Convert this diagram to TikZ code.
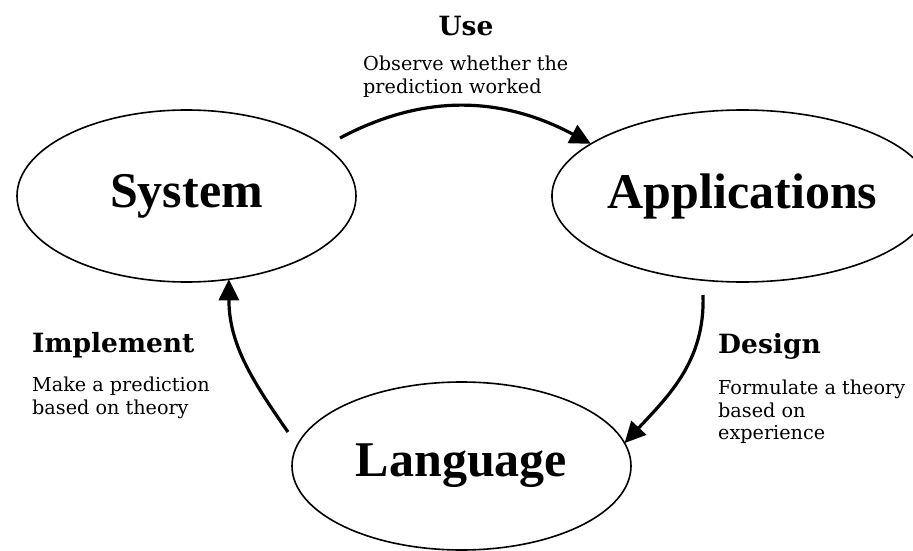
\documentclass[tikz,border=0pt]{standalone}
\usepackage{fontspec}
\setmainfont{DejaVu Serif}
\newfontfamily\boxfont{Liberation Serif}
\usetikzlibrary{shapes.geometric,arrows.meta}

\begin{document}
\begin{tikzpicture}[x=1pt,y=1pt,
    circ/.style={ellipse,draw,line width=1.6pt,minimum width=339pt,minimum height=172pt,inner sep=0pt,outer sep=0pt,font=\boxfont\bfseries\fontsize{50}{60}\selectfont},
    flow/.style={line width=3.2pt,-{Triangle[length=21pt,width=20pt]}},
    head/.style={inner sep=0pt,font=\bfseries\fontsize{26.5}{30}\selectfont},
    note/.style={inner sep=0pt,anchor=north west,align=left,font=\fontsize{19.2}{22.5}\selectfont}]
    \useasboundingbox(0,0)rectangle(913,-551);
    \node[circ](sys)at(186.5,-196){System};
    \node[circ](app)at(742.5,-196){Applications};
    \node[circ,minimum height=168pt](lang)at(461.5,-466){Language};
    \coordinate(usebeg)at(340,-138);
    \coordinate(desbeg)at(703,-295);
    \coordinate(impbeg)at(288,-432);
    \draw[flow](usebeg)to[out=28,in=152](app.161);
    \draw[flow](desbeg)to[out=-88,in=47](lang.8);
    \draw[flow](impbeg)to[out=125,in=-90](sys.-63);
    \node[head,anchor=base](use)at(466,-36){Use};
    \node[note](useTxt)at(363,-56){Observe whether the\\prediction worked};
    \node[head,anchor=base west](imp)at(32,-352){Implement};
    \node[note](impTxt)at(32,-377){Make a prediction\\based on theory};
    \node[head,anchor=base west](des)at(718,-353){Design};
    \node[note](desTxt)at(718,-380){Formulate a theory\\based on\\experience};
\end{tikzpicture}
\end{document}
